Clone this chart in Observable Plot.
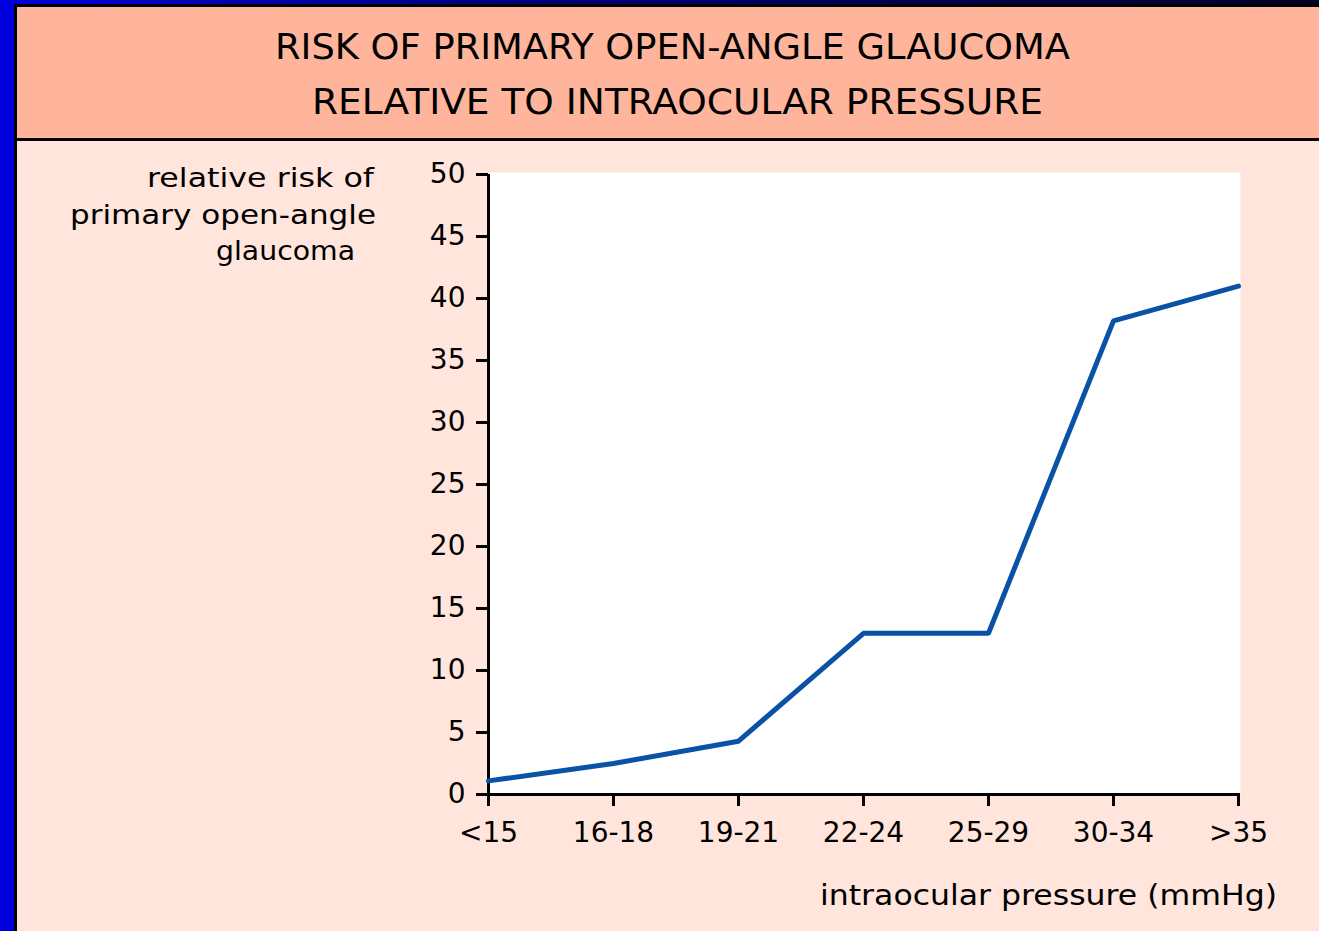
<!DOCTYPE html>
<html>
<head>
<meta charset="utf-8">
<script src="https://cdn.jsdelivr.net/npm/d3@7"></script>
<script src="https://cdn.jsdelivr.net/npm/@observablehq/plot@0.6"></script>
<style>
  html, body { margin: 0; padding: 0; background: #0000DD; }
  #root { position: relative; width: 1319px; height: 931px; overflow: hidden; background: #0000DD; font-family: "DejaVu Sans", sans-serif; }
  .abs { position: absolute; }
</style>
</head>
<body>
<div id="root">
  <div class="abs" style="left:0;top:0;width:1319px;height:4px;background:linear-gradient(to right,#0000DD 0%,#00007a 40%,#000025 100%);"></div>
  <div class="abs" style="left:14px;top:4px;width:1305px;height:927px;background:#000;"></div>
  <div class="abs" style="left:17px;top:7px;width:1302px;height:131px;background:#FFB59B;"></div>
  <div class="abs" style="left:17px;top:141px;width:1302px;height:790px;background:#FFE5DC;"></div>
  <div id="chart" class="abs" style="left:0;top:141px;"></div>
  <svg id="overlay" class="abs" style="left:0;top:0;pointer-events:none;" width="1319" height="931"></svg>
</div>
<script>
// ---- data ----
const categories = ["<15", "16-18", "19-21", "22-24", "25-29", "30-34", ">35"];
const relativeRisk = [1.1, 2.5, 4.3, 13.0, 13.0, 38.2, 41.0];
const yTicks = [0, 5, 10, 15, 20, 25, 30, 35, 40, 45, 50];
const titleLines = ["RISK OF PRIMARY OPEN-ANGLE GLAUCOMA", "RELATIVE TO INTRAOCULAR PRESSURE"];
const yLabelLines = ["relative risk of", "primary open-angle", "glaucoma"];
const xLabel = "intraocular pressure (mmHg)";

const data = categories.map((c, i) => ({cat: c, risk: relativeRisk[i]}));
const font = "DejaVu Sans, sans-serif";

const chart = Plot.plot({
  width: 1319,
  height: 790,
  marginLeft: 488,
  marginRight: 79,
  marginTop: 31,
  marginBottom: 136,
  style: {background: "transparent", fontFamily: font, color: "black"},
  x: {type: "point", domain: categories, range: [488, 1238], padding: 0, align: 0.5},
  y: {domain: [0, 50], range: [653, 33]},
  marks: [
    Plot.frame({fill: "white", stroke: null}),
    Plot.axisY({ticks: yTicks, tickSize: 12, tickPadding: 11, fontSize: 28, strokeWidth: 3, color: "black", label: null, fontFamily: font}),
    Plot.axisX({tickSize: 11, tickPadding: 16, fontSize: 28, strokeWidth: 3, color: "black", label: null, fontFamily: font}),
    Plot.ruleX([categories[0]], {y1: 0, y2: 50, strokeWidth: 3, stroke: "black"}),
    Plot.ruleY([0], {strokeWidth: 3, stroke: "black"}),
    Plot.line(data, {x: "cat", y: "risk", stroke: "#0A52A6", strokeWidth: 5, strokeLinejoin: "miter"})
  ]
});
document.getElementById("chart").appendChild(chart);

// ---- overlay texts ----
const ov = d3.select("#overlay");
const titlePos = [{x: 275, y: 59, len: 795}, {x: 312, y: 114, len: 731}];
titleLines.forEach((t, i) => {
  ov.append("text")
    .attr("x", titlePos[i].x).attr("y", titlePos[i].y)
    .attr("textLength", titlePos[i].len).attr("lengthAdjust", "spacingAndGlyphs")
    .attr("font-family", font).attr("font-size", 36).attr("fill", "black")
    .text(t);
});
const yLabPos = [{x: 147, y: 187, len: 227}, {x: 70, y: 224, len: 306}, {x: 216, y: 260, len: 139}];
yLabelLines.forEach((t, i) => {
  ov.append("text")
    .attr("x", yLabPos[i].x).attr("y", yLabPos[i].y)
    .attr("textLength", yLabPos[i].len).attr("lengthAdjust", "spacingAndGlyphs")
    .attr("font-family", font).attr("font-size", 27).attr("fill", "black")
    .text(t);
});
ov.append("text")
  .attr("x", 820).attr("y", 905)
  .attr("textLength", 457).attr("lengthAdjust", "spacingAndGlyphs")
  .attr("font-family", font).attr("font-size", 28).attr("fill", "black")
  .text(xLabel);
</script>
</body>
</html>
